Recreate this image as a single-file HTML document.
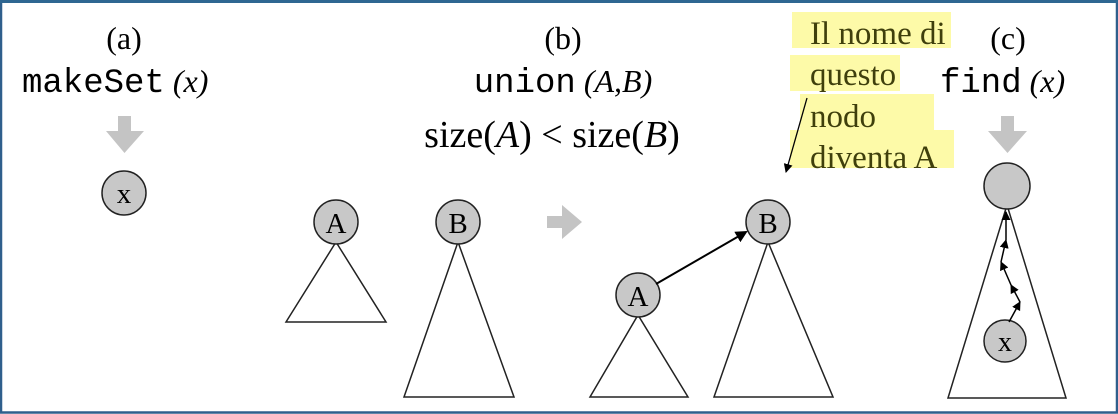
<!DOCTYPE html>
<html><head><meta charset="utf-8"><style>
html,body{margin:0;padding:0;background:#fff;}
svg{display:block;}
.serif{font-family:"Liberation Serif",serif;}
.mono{font-family:"Liberation Mono",monospace;}
</style></head><body>
<svg width="1118" height="414" viewBox="0 0 1118 414">
<defs>
<marker id="ah" markerWidth="12" markerHeight="12" refX="10" refY="6" orient="auto" markerUnits="userSpaceOnUse"><path d="M0,0 L12,6 L0,12 z" fill="#000"/></marker>
<marker id="ahs" markerWidth="9" markerHeight="9" refX="8" refY="4.5" orient="auto" markerUnits="userSpaceOnUse"><path d="M0,0 L9,4.5 L0,9 z" fill="#000"/></marker>
</defs>
<rect x="1" y="1.5" width="1116" height="411" fill="#fff" stroke="#2f5f8c" stroke-width="2.5"/>
<rect x="0" y="0" width="1118" height="3" fill="#2f6792"/>

<g>
<text x="124" y="49" class="serif" font-size="32" text-anchor="middle">(a)</text>
<text x="22" y="92" class="mono" font-size="34">makeSet<tspan class="serif" font-style="italic" font-size="32"> (x)</tspan></text>
<path d="M118,116 H131 V131 H144 L124.5,153 L106,131 H118 Z" fill="#c4c4c4"/>
<circle cx="124" cy="193" r="22" fill="#c8c8c8" stroke="#222" stroke-width="1.5"/>
<text x="124" y="203" class="serif" font-size="29" text-anchor="middle">x</text>
</g>

<g>
<text x="563" y="49" class="serif" font-size="32" text-anchor="middle">(b)</text>
<text x="563" y="92" class="mono" font-size="34" text-anchor="middle">union<tspan class="serif" font-style="italic" font-size="32"> (A,B)</tspan></text>
<text x="552" y="147" class="serif" font-size="38" text-anchor="middle">size(<tspan font-style="italic">A</tspan>) &lt; size(<tspan font-style="italic">B</tspan>)</text>

<polygon points="336,242 286,322 386,322" fill="#fff" stroke="#222" stroke-width="1.5"/>
<circle cx="336" cy="222" r="22" fill="#c8c8c8" stroke="#222" stroke-width="1.5"/>
<text x="336" y="233" class="serif" font-size="29" text-anchor="middle">A</text>

<polygon points="458,242 404,397 514,397" fill="#fff" stroke="#222" stroke-width="1.5"/>
<circle cx="458" cy="222" r="22" fill="#c8c8c8" stroke="#222" stroke-width="1.5"/>
<text x="458" y="233" class="serif" font-size="29" text-anchor="middle">B</text>

<path d="M547,216 H562 V205 L582,222 L562,239 V228 H547 Z" fill="#c4c4c4"/>

<polygon points="638,315 590,397 688,397" fill="#fff" stroke="#222" stroke-width="1.5"/>
<circle cx="638" cy="295" r="22" fill="#c8c8c8" stroke="#222" stroke-width="1.5"/>
<text x="638" y="306" class="serif" font-size="29" text-anchor="middle">A</text>

<polygon points="768,242 714,397 833,397" fill="#fff" stroke="#222" stroke-width="1.5"/>
<circle cx="768" cy="222" r="22" fill="#c8c8c8" stroke="#222" stroke-width="1.5"/>
<text x="768" y="233" class="serif" font-size="29" text-anchor="middle">B</text>
<line x1="656" y1="284" x2="746" y2="232" stroke="#000" stroke-width="2" marker-end="url(#ah)"/>
</g>

<g>
<rect x="792" y="12" width="159" height="36" fill="#fdfaa8"/>
<rect x="790" y="55" width="110" height="36" fill="#fdfaa8"/>
<rect x="800" y="94" width="134" height="36" fill="#fdfaa8"/>
<rect x="790" y="130" width="164" height="38" fill="#fdfaa8"/>
<g class="serif" font-size="33" fill="#3f3f0c">
<text x="810" y="44">Il nome di</text>
<text x="810" y="85">questo</text>
<text x="810" y="127">nodo</text>
<text x="810" y="168">diventa A</text>
</g>
<line x1="807" y1="98" x2="786" y2="172" stroke="#000" stroke-width="1.3" marker-end="url(#ahs)"/>
</g>

<g>
<text x="1008" y="49" class="serif" font-size="32" text-anchor="middle">(c)</text>
<text x="940" y="92" class="mono" font-size="34">find<tspan class="serif" font-style="italic" font-size="32"> (x)</tspan></text>
<path d="M1001,116 H1014 V131 H1027 L1007.5,153 L988,131 H1001 Z" fill="#c4c4c4"/>
<polygon points="1007,205 948,398 1066,398" fill="#fff" stroke="#222" stroke-width="1.5"/>
<circle cx="1007" cy="186" r="23" fill="#c8c8c8" stroke="#222" stroke-width="1.5"/>
<circle cx="1005" cy="341" r="21" fill="#c8c8c8" stroke="#222" stroke-width="1.5"/>
<text x="1005" y="351" class="serif" font-size="28" text-anchor="middle">x</text>
<g stroke="#000" stroke-width="1.5" fill="none">
<line x1="1009" y1="322" x2="1020" y2="302" marker-end="url(#ahs)"/>
<line x1="1020" y1="302" x2="1011" y2="285" marker-end="url(#ahs)"/>
<line x1="1011" y1="285" x2="1001" y2="262" marker-end="url(#ahs)"/>
<line x1="1001" y1="262" x2="1006" y2="240" marker-end="url(#ahs)"/>
<line x1="1006" y1="240" x2="1006" y2="212" marker-end="url(#ahs)"/>
</g>
</g>
</svg>
</body></html>
